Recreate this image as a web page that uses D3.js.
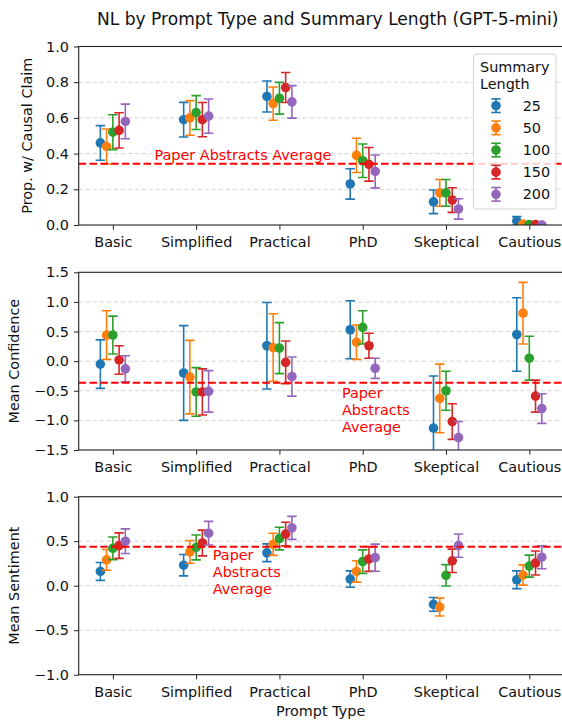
<!DOCTYPE html>
<html>
<head>
<meta charset="utf-8">
<script src="https://cdn.jsdelivr.net/npm/d3@7"></script>
<style>
  html, body { margin: 0; padding: 0; background: #fff; }
  svg { display: block; font-family: "DejaVu Sans", sans-serif; }
</style>
</head>
<body>
<svg id="chart" width="562" height="720"></svg>
<script>
const promptTypes = ["Basic", "Simplified", "Practical", "PhD", "Skeptical", "Cautious"];
const summaryLengths = ["25", "50", "100", "150", "200"];
const seriesColors = ["#1f77b4", "#ff7f0e", "#2ca02c", "#d62728", "#9467bd"];
const dodgeOffsets = [-0.15, -0.075, 0, 0.075, 0.15];

// one row per summary length, one value per prompt type
const causalMeans = [
  [0.46, 0.59, 0.72, 0.23, 0.13, 0.022],
  [0.44, 0.60, 0.68, 0.39, 0.18, 0.005],
  [0.52, 0.63, 0.71, 0.36, 0.18, 0.003],
  [0.53, 0.59, 0.77, 0.34, 0.14, 0.003],
  [0.58, 0.61, 0.69, 0.30, 0.09, 0.0],
];
const causalErrors = [
  [0.097, 0.097, 0.087, 0.085, 0.066, 0.025],
  [0.098, 0.097, 0.093, 0.096, 0.075, 0.005],
  [0.098, 0.095, 0.089, 0.094, 0.075, 0.004],
  [0.099, 0.096, 0.084, 0.094, 0.069, 0.004],
  [0.097, 0.096, 0.091, 0.092, 0.057, 0.0],
];
const confidenceMeans = [
  [-0.05, -0.20, 0.26, 0.53, -1.13, 0.45],
  [0.44, -0.27, 0.23, 0.32, -0.63, 0.81],
  [0.44, -0.52, 0.22, 0.57, -0.50, 0.05],
  [0.02, -0.52, -0.02, 0.26, -1.02, -0.59],
  [-0.13, -0.51, -0.26, -0.12, -1.29, -0.80],
];
const confidenceErrors = [
  [0.41, 0.80, 0.73, 0.49, 0.88, 0.62],
  [0.41, 0.62, 0.57, 0.29, 0.58, 0.52],
  [0.32, 0.41, 0.43, 0.28, 0.33, 0.37],
  [0.24, 0.39, 0.36, 0.21, 0.30, 0.27],
  [0.22, 0.35, 0.33, 0.17, 0.27, 0.25],
];
const sentimentMeans = [
  [0.16, 0.23, 0.37, 0.075, -0.21, 0.067],
  [0.29, 0.38, 0.465, 0.16, -0.24, 0.12],
  [0.42, 0.43, 0.53, 0.27, 0.117, 0.22],
  [0.45, 0.48, 0.58, 0.30, 0.28, 0.255],
  [0.50, 0.59, 0.65, 0.315, 0.45, 0.32],
];
const sentimentErrors = [
  [0.10, 0.12, 0.10, 0.092, 0.077, 0.10],
  [0.117, 0.128, 0.124, 0.12, 0.10, 0.114],
  [0.127, 0.14, 0.127, 0.133, 0.12, 0.124],
  [0.143, 0.145, 0.133, 0.139, 0.131, 0.135],
  [0.139, 0.133, 0.129, 0.152, 0.131, 0.129],
];
const paperAverages = [0.343, -0.363, 0.438];
const causalTicks = [0, 0.2, 0.4, 0.6, 0.8, 1.0];
const confidenceTicks = [-1.5, -1.0, -0.5, 0, 0.5, 1.0, 1.5];
const sentimentTicks = [-1.0, -0.5, 0, 0.5, 1.0];

const LEFT = 78.7;
const RIGHT = 562.6;
const TICK = 4.7;
const CAP = 4.7;
const DOT_R = 4.8;
const FONT = 14.4;

const panels = [
  {
    label: "Prop. w/ Causal Claim", labelX: 31.5, top: 46.5, bottom: 225,
    domain: [0, 1], ticks: causalTicks, means: causalMeans, errors: causalErrors,
    avg: paperAverages[0], note: ["Paper Abstracts Average"], noteAt: [0.5, 0.365],
  },
  {
    label: "Mean Confidence", labelX: 18.5, top: 272.3, bottom: 450,
    domain: [-1.5, 1.5], ticks: confidenceTicks, means: confidenceMeans, errors: confidenceErrors,
    avg: paperAverages[1], note: ["Paper", "Abstracts", "Average"], noteAt: [2.75, -0.62],
  },
  {
    label: "Mean Sentiment", labelX: 18.5, top: 496.7, bottom: 674.7,
    domain: [-1, 1], ticks: sentimentTicks, means: sentimentMeans, errors: sentimentErrors,
    avg: paperAverages[2], note: ["Paper", "Abstracts", "Average"], noteAt: [1.2, 0.289],
  },
];

const svg = d3.select("#chart");
const x = d3.scaleLinear().domain([-0.41, 5.4]).range([LEFT, RIGHT]);
const fmt = d3.format(".1f");

svg.append("text")
  .attr("x", 558.5)
  .attr("y", 25)
  .attr("text-anchor", "end")
  .attr("font-size", 17.1)
  .attr("fill", "#111")
  .text("NL by Prompt Type and Summary Length (GPT-5-mini)");

panels.forEach((panel, panelIndex) => {
  const y = d3.scaleLinear().domain(panel.domain).range([panel.bottom, panel.top]);
  const g = svg.append("g");
  const clipId = `clip-${panelIndex}`;

  svg.append("clipPath").attr("id", clipId)
    .append("rect")
    .attr("x", LEFT).attr("y", panel.top)
    .attr("width", RIGHT - LEFT).attr("height", panel.bottom - panel.top);

  // grid
  g.append("g")
    .selectAll("line")
    .data(panel.ticks.filter((t) => t > panel.domain[0] && t < panel.domain[1]))
    .join("line")
    .attr("x1", LEFT).attr("x2", RIGHT)
    .attr("y1", (t) => y(t)).attr("y2", (t) => y(t))
    .attr("stroke", "#cfcfcf")
    .attr("stroke-width", 0.9)
    .attr("stroke-dasharray", "4.5,2.5");

  const plot = g.append("g").attr("clip-path", `url(#${clipId})`);

  summaryLengths.forEach((len, s) => {
    const pts = promptTypes.map((p, i) => ({
      cx: x(i + dodgeOffsets[s]),
      m: panel.means[s][i],
      e: panel.errors[s][i],
    }));
    const sg = plot.append("g").attr("stroke", seriesColors[s]).attr("fill", seriesColors[s]);
    sg.selectAll("line.bar").data(pts).join("line").attr("class", "bar")
      .attr("x1", (d) => d.cx).attr("x2", (d) => d.cx)
      .attr("y1", (d) => y(d.m - d.e)).attr("y2", (d) => y(d.m + d.e))
      .attr("stroke-width", 1.6);
    sg.selectAll("line.capTop").data(pts).join("line").attr("class", "capTop")
      .attr("x1", (d) => d.cx - CAP).attr("x2", (d) => d.cx + CAP)
      .attr("y1", (d) => y(d.m + d.e)).attr("y2", (d) => y(d.m + d.e))
      .attr("stroke-width", 1.6);
    sg.selectAll("line.capBot").data(pts).join("line").attr("class", "capBot")
      .attr("x1", (d) => d.cx - CAP).attr("x2", (d) => d.cx + CAP)
      .attr("y1", (d) => y(d.m - d.e)).attr("y2", (d) => y(d.m - d.e))
      .attr("stroke-width", 1.6);
    sg.selectAll("circle").data(pts).join("circle")
      .attr("cx", (d) => d.cx).attr("cy", (d) => y(d.m))
      .attr("r", DOT_R).attr("stroke", "none");
  });

  // paper abstracts average
  plot.append("line")
    .attr("x1", LEFT).attr("x2", RIGHT)
    .attr("y1", y(panel.avg)).attr("y2", y(panel.avg))
    .attr("stroke", "#ff0000")
    .attr("stroke-width", 2)
    .attr("stroke-dasharray", "7.5,3.3");

  const note = g.append("text")
    .attr("x", x(panel.noteAt[0]))
    .attr("y", y(panel.noteAt[1]))
    .attr("font-size", FONT)
    .attr("fill", "#ff0000");
  panel.note.forEach((line, i) => {
    note.append("tspan")
      .attr("x", x(panel.noteAt[0]))
      .attr("dy", i === 0 ? 0 : 17.2)
      .text(line);
  });

  // axes
  const yAxis = g.append("g")
    .attr("transform", `translate(${LEFT},0)`)
    .call(d3.axisLeft(y).tickValues(panel.ticks).tickFormat(fmt).tickSize(TICK).tickPadding(5));
  const xAxis = g.append("g")
    .attr("transform", `translate(0,${panel.bottom})`)
    .call(d3.axisBottom(x).tickValues(d3.range(promptTypes.length))
      .tickFormat((i) => promptTypes[i]).tickSize(TICK).tickPadding(7));
  [yAxis, xAxis].forEach((ax) => {
    ax.select(".domain").remove();
    ax.selectAll(".tick line").attr("stroke", "#222").attr("stroke-width", 1);
    ax.selectAll(".tick text")
      .attr("fill", "#111")
      .attr("font-size", FONT)
      .attr("font-family", "DejaVu Sans, sans-serif");
  });

  // spines
  g.append("rect")
    .attr("x", LEFT).attr("y", panel.top)
    .attr("width", RIGHT - LEFT).attr("height", panel.bottom - panel.top)
    .attr("fill", "none")
    .attr("stroke", "#222")
    .attr("stroke-width", 1.1);

  svg.append("text")
    .attr("transform", `translate(${panel.labelX},${(panel.top + panel.bottom) / 2}) rotate(-90)`)
    .attr("text-anchor", "middle")
    .attr("font-size", FONT)
    .attr("fill", "#111")
    .text(panel.label);
});

svg.append("text")
  .attr("x", (LEFT + RIGHT) / 2)
  .attr("y", 715.5)
  .attr("text-anchor", "middle")
  .attr("font-size", FONT)
  .attr("fill", "#111")
  .text("Prompt Type");

// legend
const legend = svg.append("g");
legend.append("rect")
  .attr("x", 473.5).attr("y", 54)
  .attr("width", 82.5).attr("height", 155)
  .attr("rx", 3)
  .attr("fill", "#fff").attr("fill-opacity", 0.8)
  .attr("stroke", "#d4d4d4");
legend.append("text")
  .attr("x", 480).attr("y", 72.3)
  .attr("font-size", FONT).attr("fill", "#111")
  .text("Summary");
legend.append("text")
  .attr("x", 480).attr("y", 89.3)
  .attr("font-size", FONT).attr("fill", "#111")
  .text("Length");
const legendY = d3.scalePoint().domain(summaryLengths).range([105.7, 194.3]);
summaryLengths.forEach((len, s) => {
  const cy = legendY(len);
  const item = legend.append("g").attr("stroke", seriesColors[s]).attr("fill", seriesColors[s]);
  item.append("line").attr("x1", 496).attr("x2", 496).attr("y1", cy - 6.8).attr("y2", cy + 6.8).attr("stroke-width", 1.6);
  item.append("line").attr("x1", 496 - CAP).attr("x2", 496 + CAP).attr("y1", cy - 6.8).attr("y2", cy - 6.8).attr("stroke-width", 1.6);
  item.append("line").attr("x1", 496 - CAP).attr("x2", 496 + CAP).attr("y1", cy + 6.8).attr("y2", cy + 6.8).attr("stroke-width", 1.6);
  item.append("circle").attr("cx", 496).attr("cy", cy).attr("r", DOT_R).attr("stroke", "none");
  legend.append("text")
    .attr("x", 522.7).attr("y", cy)
    .attr("dy", "0.36em")
    .attr("font-size", FONT).attr("fill", "#111")
    .text(len);
});
</script>
</body>
</html>
